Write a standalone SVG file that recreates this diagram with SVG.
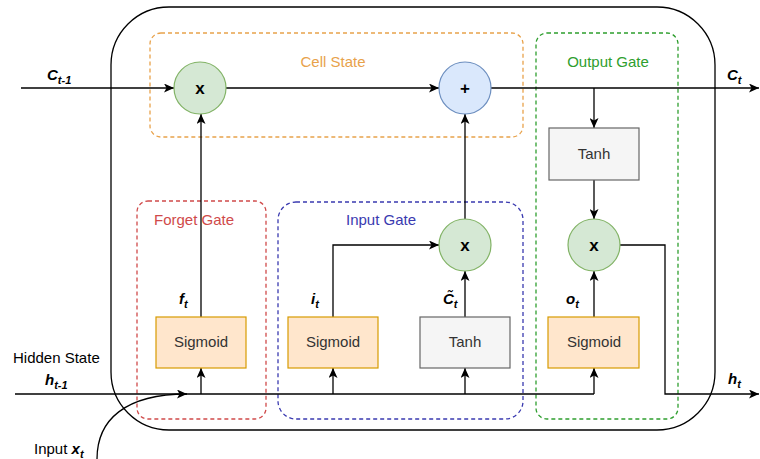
<svg xmlns="http://www.w3.org/2000/svg" width="760" height="459" viewBox="0 0 760 459">
  <style>
    text { font-family: "Liberation Sans", Arial, sans-serif; }
    .op { fill: #d5e8d4; stroke: #82b366; stroke-width: 1.2; }
    .add { fill: #dae8fc; stroke: #6c8ebf; stroke-width: 1.2; }
    .sig { fill: #ffe6cc; stroke: #d79b00; stroke-width: 1.2; }
    .tanh { fill: #f5f5f5; stroke: #666666; stroke-width: 1.2; }
    .boxlbl { font-size: 15px; fill: #333333; text-anchor: middle; }
    .sym { font-size: 17px; font-weight: bold; fill: #000; text-anchor: middle; }
    .grp { fill: none; stroke-width: 1.3; stroke-dasharray: 4 3; }
    .grplbl { font-size: 15px; text-anchor: middle; }
    .wire { fill: none; stroke: #000; stroke-width: 1.3; }
    .var { font-size: 15px; font-weight: bold; font-style: italic; fill: #000; }
    .sub { font-size: 11px; }
    .plain { font-size: 15px; fill: #000; }
  </style>
  <defs>
    <marker id="arrow" markerUnits="userSpaceOnUse" markerWidth="11" markerHeight="9" refX="10" refY="4.5" orient="auto">
      <path d="M0,0 L10,4.5 L0,9 L2.5,4.5 z" fill="#000"/>
    </marker>
  </defs>

  <!-- dashed gate regions -->
  <g id="cell-state-region">
    <rect class="grp" x="150" y="33" width="373" height="104" rx="11" stroke="#e8a24b"/>
    <text class="grplbl" x="333" y="67" fill="#e8a24b">Cell State</text>
  </g>
  <g id="forget-gate-region">
    <rect class="grp" x="137" y="201" width="129" height="218" rx="11" stroke="#d04a4a"/>
    <text class="grplbl" x="194" y="225" fill="#d04a4a">Forget Gate</text>
  </g>
  <g id="input-gate-region">
    <rect class="grp" x="278" y="202" width="245" height="217" rx="18" stroke="#3a3ab0"/>
    <text class="grplbl" x="381" y="225" fill="#3a3ab0">Input Gate</text>
  </g>
  <g id="output-gate-region">
    <rect class="grp" x="536" y="33" width="142" height="386" rx="11" stroke="#2e9e2e"/>
    <text class="grplbl" x="608" y="67" fill="#2e9e2e">Output Gate</text>
  </g>

  <!-- LSTM cell boundary -->
  <g id="cell-boundary">
    <rect x="111" y="7" width="604" height="423" rx="58" fill="none" stroke="#000" stroke-width="1.3"/>
  </g>

  <!-- connectors -->
  <g id="connectors">
    <path class="wire" d="M21,88 H174" marker-end="url(#arrow)"/>
    <path class="wire" d="M226,88 H439" marker-end="url(#arrow)"/>
    <path class="wire" d="M491,88 H759" marker-end="url(#arrow)"/>
    <path class="wire" d="M594,88 V128" marker-end="url(#arrow)"/>
    <path class="wire" d="M594,180 V219" marker-end="url(#arrow)"/>
    <path class="wire" d="M594,317 V271" marker-end="url(#arrow)"/>
    <path class="wire" d="M620,245 H665 V394 H759" marker-end="url(#arrow)"/>
    <path class="wire" d="M201,317 V114" marker-end="url(#arrow)"/>
    <path class="wire" d="M333,317 V245 H439" marker-end="url(#arrow)"/>
    <path class="wire" d="M465,317 V271" marker-end="url(#arrow)"/>
    <path class="wire" d="M465,219 V114" marker-end="url(#arrow)"/>
    <path class="wire" d="M15,394 H594"/>
    <path class="wire" d="M201,394 V368" marker-end="url(#arrow)"/>
    <path class="wire" d="M333,394 V368" marker-end="url(#arrow)"/>
    <path class="wire" d="M465,394 V368" marker-end="url(#arrow)"/>
    <path class="wire" d="M594,394 V368" marker-end="url(#arrow)"/>
    <path class="wire" d="M97,459 C97,420 125,394 187,394" marker-end="url(#arrow)"/>
  </g>

  <!-- pointwise operations -->
  <g id="forget-multiply">
    <circle class="op" cx="200" cy="88" r="26"/>
    <text class="sym" x="200" y="94">x</text>
  </g>
  <g id="cell-add">
    <circle class="add" cx="465" cy="88" r="26"/>
    <text class="sym" x="465" y="94">+</text>
  </g>
  <g id="input-multiply">
    <circle class="op" cx="465" cy="245" r="26"/>
    <text class="sym" x="465" y="251">x</text>
  </g>
  <g id="output-multiply">
    <circle class="op" cx="594" cy="245" r="26"/>
    <text class="sym" x="594" y="251">x</text>
  </g>

  <!-- activation layers -->
  <g id="forget-sigmoid">
    <rect class="sig" x="156" y="317" width="90" height="51"/>
    <text class="boxlbl" x="201" y="347">Sigmoid</text>
  </g>
  <g id="input-sigmoid">
    <rect class="sig" x="288" y="317" width="90" height="51"/>
    <text class="boxlbl" x="333" y="347">Sigmoid</text>
  </g>
  <g id="input-tanh">
    <rect class="tanh" x="420" y="317" width="90" height="51"/>
    <text class="boxlbl" x="465" y="347">Tanh</text>
  </g>
  <g id="output-sigmoid">
    <rect class="sig" x="548" y="317" width="91" height="51"/>
    <text class="boxlbl" x="594" y="347">Sigmoid</text>
  </g>
  <g id="output-tanh">
    <rect class="tanh" x="549" y="128" width="90" height="52"/>
    <text class="boxlbl" x="594" y="159">Tanh</text>
  </g>

  <!-- variable labels -->
  <g id="labels">
    <text class="var" x="47" y="80">C<tspan class="sub" dy="4">t-1</tspan></text>
    <text class="var" x="727" y="80">C<tspan class="sub" dy="4">t</tspan></text>
    <text class="var" x="179" y="304">f<tspan class="sub" dy="4">t</tspan></text>
    <text class="var" x="311" y="304">i<tspan class="sub" dy="4">t</tspan></text>
    <text class="var" x="443" y="304" font-weight="normal">C̃<tspan class="sub" dy="4" font-weight="bold">t</tspan></text>
    <text class="var" x="566" y="304">o<tspan class="sub" dy="4">t</tspan></text>
    <text class="var" x="728" y="384">h<tspan class="sub" dy="4">t</tspan></text>
    <text class="plain" x="13" y="363">Hidden State</text>
    <text class="var" x="45" y="385">h<tspan class="sub" dy="4">t-1</tspan></text>
    <text class="plain" x="34" y="454">Input <tspan font-weight="bold" font-style="italic" font-size="15">x</tspan><tspan font-weight="bold" font-style="italic" font-size="11" dy="4">t</tspan></text>
  </g>
</svg>
